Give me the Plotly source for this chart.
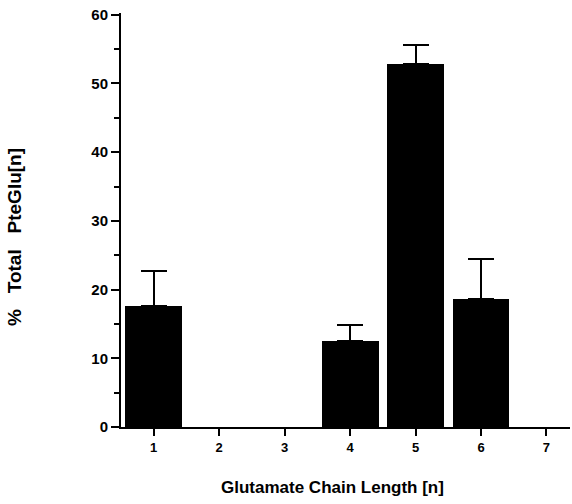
import plotly.graph_objects as go

chain_length = [1, 2, 3, 4, 5, 6, 7]
pct_total = [17.6, 0, 0, 12.5, 52.8, 18.7, 0]
err_plus = [5.1, 0, 0, 2.3, 2.8, 5.8, 0]
y_ticks = [0, 10, 20, 30, 40, 50, 60]

font = "Liberation Sans, Arial, sans-serif"

# only categories with a measurable amount get a bar / error bar
shown = [i for i, v in enumerate(pct_total) if v > 0]

fig = go.Figure()
fig.add_trace(go.Bar(
    x=[chain_length[i] for i in shown],
    y=[pct_total[i] for i in shown],
    width=0.87,
    marker=dict(color="black", line=dict(width=0)),
    error_y=dict(type="data", array=[err_plus[i] for i in shown],
                 symmetric=False, arrayminus=[0] * len(shown),
                 color="black", thickness=2, width=13, visible=True),
))
fig.update_layout(
    width=572, height=504,
    margin=dict(l=121, r=2, t=13, b=77, autoexpand=False),
    plot_bgcolor="white", paper_bgcolor="white",
    showlegend=False,
    bargap=0,
    font=dict(family=font, color="black"),
)
fig.update_xaxes(
    range=[0.5, 7.36], tickvals=chain_length,
    ticktext=[str(v) for v in chain_length],
    showline=True, linecolor="black", linewidth=2,
    ticks="outside", ticklen=7, tickwidth=2, tickcolor="black",
    showgrid=False, zeroline=False, automargin=False,
    tickfont=dict(family=font, size=13, color="black", weight="bold"),
)
fig.update_yaxes(
    range=[0, 60.25], tickvals=y_ticks,
    showline=True, linecolor="black", linewidth=2,
    ticks="outside", ticklen=8, tickwidth=2, tickcolor="black",
    minor=dict(ticks="outside", ticklen=5, tickwidth=2, tickcolor="black", dtick=5),
    showgrid=False, zeroline=False, ticklabeloverflow="allow", automargin=False,
    tickfont=dict(family=font, size=15, color="black", weight="bold"),
)
fig.add_annotation(
    text="%   Total   PteGlu[n]", xref="paper", yref="paper",
    x=-0.236, y=0.459, xanchor="center", yanchor="middle",
    showarrow=False, textangle=-90,
    font=dict(family=font, size=19, color="black", weight="bold"),
)
fig.add_annotation(
    text="Glutamate Chain Length [n]", xref="paper", yref="paper",
    x=0.472, y=-0.145, xanchor="center", yanchor="middle", showarrow=False,
    font=dict(family=font, size=17, color="black", weight="bold"),
)
fig.write_html("out.html", config={"displayModeBar": False},
               post_script="document.body.style.margin='0px';")
